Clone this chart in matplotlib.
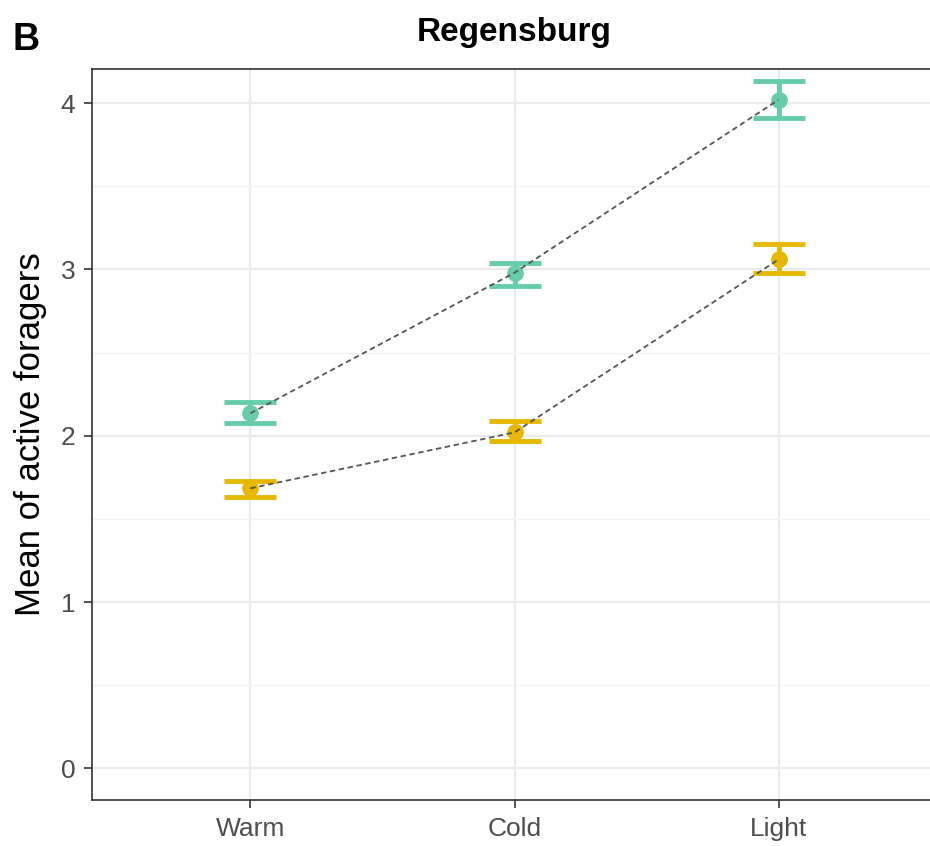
import numpy as np
import matplotlib.pyplot as plt
from matplotlib.ticker import MultipleLocator

plt.rcParams['font.family'] = ['Liberation Sans', 'DejaVu Sans']

treatments = ['Warm', 'Cold', 'Light']
teal_mean = [2.135, 2.98, 4.02]
teal_lo = [2.075, 2.90, 3.91]
teal_hi = [2.20, 3.04, 4.13]
gold_mean = [1.684, 2.02, 3.06]
gold_lo = [1.63, 1.97, 2.98]
gold_hi = [1.73, 2.09, 3.15]

teal = '#66CDAA'
gold = '#E7B800'

fig = plt.figure(figsize=(9.3, 8.46), dpi=100)
ax = fig.add_axes([92/930, 1 - 800/846, (937 - 92)/930, (800 - 69)/846])

x = np.arange(1, len(treatments) + 1)
for mean, lo, hi, col in [(teal_mean, teal_lo, teal_hi, teal),
                          (gold_mean, gold_lo, gold_hi, gold)]:
    mean = np.array(mean)
    yerr = [mean - np.array(lo), np.array(hi) - mean]
    ax.errorbar(x, mean, yerr=yerr, fmt='none', ecolor=col, elinewidth=3.5,
                capsize=19, capthick=3.5, zorder=3)
    ax.plot(x, mean, 'o', color=col, ms=11, zorder=4)
    ax.plot(x, mean, linestyle=(0, (3, 2)), color='#555555', lw=1.3, zorder=5)

ax.set_xlim(0.4, 3.6)
ax.set_ylim(-0.19, 4.205)
ax.set_xticks(x)
ax.set_xticklabels(treatments)
ax.yaxis.set_major_locator(MultipleLocator(1))
ax.yaxis.set_minor_locator(MultipleLocator(0.5))
ax.grid(which='major', color='#EBEBEB', lw=1.6)
ax.grid(which='minor', axis='y', color='#F4F4F4', lw=1.0)
ax.set_axisbelow(True)
for s in ax.spines.values():
    s.set_color('#333333')
    s.set_linewidth(1.2)
ax.tick_params(axis='both', which='major', labelsize=19, labelcolor='#4D4D4D',
               color='#333333', length=6, width=1.2, pad=6)
ax.tick_params(axis='y', which='minor', length=0)
ax.set_ylabel('Mean of active foragers', fontsize=25, labelpad=10)
ax.set_title('Regensburg', fontsize=24, fontweight='bold', pad=20)
fig.text(12/930, 1 - 40/846, 'B', fontsize=27, fontweight='bold', va='center')

fig.savefig('out.png', dpi=100)
